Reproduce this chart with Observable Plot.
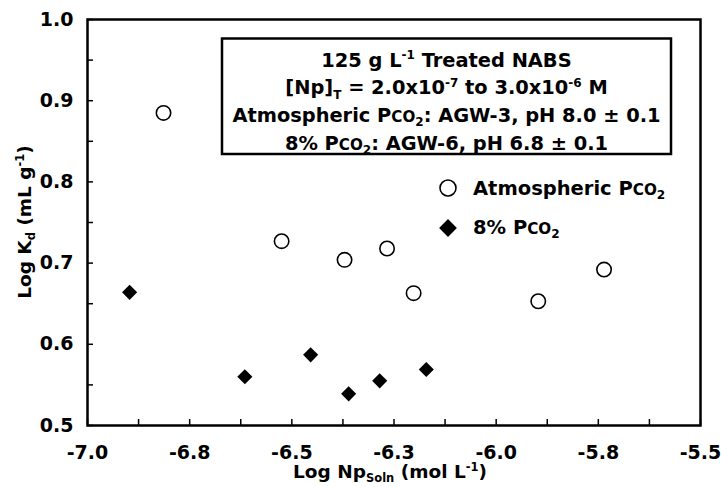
<!DOCTYPE html>
<html><head><meta charset="utf-8">
<script src="https://cdn.jsdelivr.net/npm/d3@7"></script>
<script src="https://cdn.jsdelivr.net/npm/@observablehq/plot@0.6"></script>
<style>
html,body{margin:0;padding:0;background:#fff;overflow:hidden}
#chart svg{display:block;font-family:"DejaVu Sans",Verdana,sans-serif;font-weight:bold}
</style>
</head><body><div id="chart"></div>
<script>
// ---- data ----
const atmX = [-6.814, -6.525, -6.371, -6.267, -6.202, -5.897, -5.736];
const atmY = [0.885, 0.727, 0.704, 0.718, 0.663, 0.653, 0.692];
const co2X = [-6.897, -6.615, -6.454, -6.361, -6.285, -6.171];
const co2Y = [0.664, 0.560, 0.587, 0.539, 0.555, 0.569];

const xTicks = [-7, -6.75, -6.5, -6.25, -6, -5.75, -5.5];
const xTickLabels = ["-7.0", "-6.8", "-6.5", "-6.3", "-6.0", "-5.8", "-5.5"];
const xMinorTicks = [-7, -6.875, -6.75, -6.625, -6.5, -6.375, -6.25, -6.125, -6, -5.875, -5.75, -5.625, -5.5];
const yTicks = [0.5, 0.6, 0.7, 0.8, 0.9, 1.0];
const yTickLabels = ["0.5", "0.6", "0.7", "0.8", "0.9", "1.0"];
const yMinorTicks = [0.5, 0.55, 0.6, 0.65, 0.7, 0.75, 0.8, 0.85, 0.9, 0.95, 1.0];
const xDomain = [-7, -5.5];
const yDomain = [0.5, 1.0];

const atm = atmX.map((x, i) => ({x, y: atmY[i]}));
const co2 = co2X.map((x, i) => ({x, y: co2Y[i]}));

const W = 721, H = 487;
const FONT = '"DejaVu Sans", Verdana, sans-serif';

const chart = Plot.plot({
  width: W, height: H,
  marginLeft: 87, marginRight: 21, marginTop: 19, marginBottom: 62,
  x: {domain: xDomain, label: null},
  y: {domain: yDomain, label: null},
  style: {fontFamily: FONT, fontWeight: "bold", fontSize: "19px", color: "#000", background: "#fff", overflow: "visible"},
  marks: [
    Plot.axisX({ticks: xMinorTicks, tickSize: -6, tickFormat: () => "", strokeWidth: 1.5, label: null}),
    Plot.axisX({ticks: xTicks, tickSize: 0, tickPadding: 20, tickFormat: d => xTickLabels[xTicks.indexOf(d)], label: null, fontSize: 19, fontWeight: "bold"}),
    Plot.axisY({ticks: yMinorTicks, tickSize: -6, tickFormat: () => "", strokeWidth: 1.5, label: null}),
    Plot.axisY({ticks: yTicks, tickSize: 0, tickPadding: 14, tickFormat: d => yTickLabels[yTicks.indexOf(d)], label: null, fontSize: 19, fontWeight: "bold"}),
    Plot.frame({stroke: "black", strokeWidth: 2.5}),
    Plot.dot(atm, {x: "x", y: "y", r: 7.2, stroke: "black", strokeWidth: 1.6, fill: "white"}),
    Plot.dot(co2, {x: "x", y: "y", symbol: "diamond2", r: 6.8, fill: "black", stroke: "none"})
  ]
});
document.getElementById("chart").appendChild(chart);

const svg = d3.select(chart);

function rich(sel, segs, size) {
  let shift = 0;
  segs.forEach(([t, type]) => {
    const ts = sel.append("tspan").text(t);
    let target = 0, fs = size;
    if (type === "sup") { target = -size * 0.4; fs = size * 0.62; }
    if (type === "sub") { target = size * 0.22; fs = size * 0.62; }
    if (type === "sc") { fs = size * 0.78; }
    ts.attr("font-size", fs).attr("dy", target - shift);
    shift = target;
  });
}

const g = svg.append("g").attr("font-family", FONT).attr("font-weight", "bold").attr("fill", "black");

// annotation box
g.append("rect").attr("x", 222).attr("y", 38.5).attr("width", 449).attr("height", 115.5)
  .attr("fill", "white").attr("stroke", "black").attr("stroke-width", 2.5);

const AS = 19.4;
const lines = [
  [["125 g L"], ["-1", "sup"], [" Treated NABS"]],
  [["[Np]"], ["T", "sub"], [" = 2.0x10"], ["-7", "sup"], [" to 3.0x10"], ["-6", "sup"], [" M"]],
  [["Atmospheric P"], ["CO", "sc"], ["2", "sub"], [": AGW-3, pH 8.0 \u00b1 0.1"]],
  [["8% P"], ["CO", "sc"], ["2", "sub"], [": AGW-6, pH 6.8 \u00b1 0.1"]]
];
const baselines = [66.5, 94.3, 122.1, 149.9];
lines.forEach((segs, i) => {
  const t = g.append("text").attr("x", 446.5).attr("y", baselines[i]).attr("text-anchor", "middle").attr("font-size", AS);
  rich(t, segs, AS);
});

// legend
g.append("circle").attr("cx", 448).attr("cy", 188).attr("r", 8).attr("fill", "white").attr("stroke", "black").attr("stroke-width", 1.6);
g.append("path").attr("transform", "translate(448,228)")
  .attr("d", d3.symbol(d3.symbolDiamond2, Math.PI * 8 * 8)()).attr("fill", "black");
const l1 = g.append("text").attr("x", 473).attr("y", 195).attr("text-anchor", "start").attr("font-size", 19.5);
rich(l1, [["Atmospheric P"], ["CO", "sc"], ["2", "sub"]], 19.5);
const l2 = g.append("text").attr("x", 473).attr("y", 234).attr("text-anchor", "start").attr("font-size", 19.5);
rich(l2, [["8% P"], ["CO", "sc"], ["2", "sub"]], 19.5);

// axis titles
const TS = 18.5;
const xt = g.append("text").attr("x", 390).attr("y", 478).attr("text-anchor", "middle").attr("font-size", TS);
rich(xt, [["Log Np"], ["Soln", "sub"], [" (mol L"], ["-1", "sup"], [")"]], TS);
const yt = g.append("text").attr("transform", "translate(31,222) rotate(-90)").attr("text-anchor", "middle").attr("font-size", TS);
rich(yt, [["Log K"], ["d", "sub"], [" (mL g"], ["-1", "sup"], [")"]], TS);
</script>
</body></html>
